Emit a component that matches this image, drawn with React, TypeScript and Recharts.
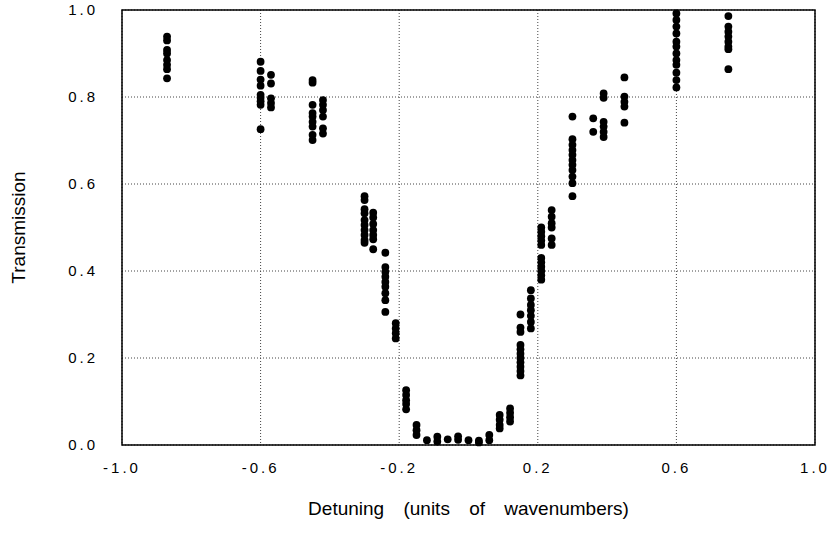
import { ScatterChart, Scatter, XAxis, YAxis, CartesianGrid, ReferenceArea, Label } from "recharts"

// detuning position of each measurement column
const DETUNING = [
  -0.87, -0.6, -0.57, -0.45, -0.42, -0.3, -0.275, -0.24, -0.21, -0.18, -0.15,
  -0.12, -0.09, -0.06, -0.03, 0.0, 0.03, 0.06, 0.09, 0.12,
  0.15, 0.18, 0.21, 0.24, 0.3, 0.36, 0.39, 0.45, 0.6, 0.75,
]

// transmission readings in each column
const TRANSMISSION = [
  [0.939, 0.93, 0.908, 0.9, 0.885, 0.874, 0.864, 0.843],
  [0.881, 0.86, 0.84, 0.826, 0.805, 0.798, 0.79, 0.782, 0.726],
  [0.851, 0.831, 0.797, 0.786, 0.776],
  [0.839, 0.833, 0.782, 0.763, 0.755, 0.743, 0.732, 0.713, 0.701],
  [0.793, 0.782, 0.77, 0.755, 0.728, 0.716],
  [0.572, 0.563, 0.542, 0.533, 0.517, 0.506, 0.494, 0.483, 0.471, 0.465],
  [0.534, 0.523, 0.508, 0.494, 0.483, 0.473, 0.45],
  [0.442, 0.409, 0.398, 0.387, 0.375, 0.364, 0.349, 0.333, 0.306],
  [0.28, 0.268, 0.257, 0.245],
  [0.126, 0.115, 0.103, 0.094, 0.082],
  [0.046, 0.034, 0.023],
  [0.011],
  [0.019, 0.008],
  [0.013],
  [0.02, 0.012],
  [0.011],
  [0.01, 0.006],
  [0.023, 0.011],
  [0.069, 0.058, 0.046, 0.038],
  [0.084, 0.074, 0.064, 0.054],
  [0.3, 0.27, 0.26, 0.23, 0.22, 0.21, 0.2, 0.19, 0.18, 0.17, 0.16],
  [0.356, 0.337, 0.322, 0.31, 0.297, 0.283, 0.268],
  [0.5, 0.49, 0.48, 0.47, 0.46, 0.43, 0.42, 0.41, 0.4, 0.39, 0.38],
  [0.54, 0.525, 0.51, 0.5, 0.475, 0.46],
  [0.755, 0.703, 0.69, 0.678, 0.667, 0.655, 0.644, 0.632, 0.617, 0.602, 0.572],
  [0.751, 0.72],
  [0.808, 0.798, 0.743, 0.732, 0.72, 0.708],
  [0.845, 0.801, 0.789, 0.778, 0.741],
  [0.992, 0.977, 0.962, 0.946, 0.927, 0.916, 0.9, 0.885, 0.874, 0.856, 0.839, 0.822],
  [0.986, 0.962, 0.95, 0.939, 0.927, 0.916, 0.91, 0.864],
]

const X_TICKS = [-1.0, -0.6, -0.2, 0.2, 0.6, 1.0]
const Y_TICKS = [0, 0.2, 0.4, 0.6, 0.8, 1.0]

const points = DETUNING.flatMap((x, i) => TRANSMISSION[i].map((y) => ({ x, y })))

const font = "Liberation Sans, Arial, Helvetica, sans-serif"
const tickStyle = { fontSize: 15, fill: "#000", fontFamily: font, letterSpacing: 3 }

const Dot = (p: any) => <circle cx={p.cx} cy={p.cy} r={3.9} fill="#000" />

export default function App() {
  return (
    <div style={{ width: 832, height: 533, background: "#fff" }}>
      <style>{`body{margin:0}`}</style>
      <ScatterChart width={832} height={533} margin={{ top: 10, right: 17, bottom: 0, left: 0 }}>
        <CartesianGrid stroke="#444" strokeDasharray="1 2" horizontalValues={Y_TICKS} verticalValues={X_TICKS} />
        <XAxis
          type="number"
          dataKey="x"
          domain={[-1, 1]}
          ticks={X_TICKS}
          tickFormatter={(v) => v.toFixed(1)}
          tick={tickStyle}
          tickLine={false}
          axisLine={false}
          tickMargin={11}
          height={88}
        >
          <Label
            value="Detuning (units of wavenumbers)"
            position="insideBottom"
            offset={18}
            style={{ fontSize: 19, fill: "#000", fontFamily: font, wordSpacing: 14 }}
          />
        </XAxis>
        <YAxis
          type="number"
          dataKey="y"
          domain={[0, 1]}
          ticks={Y_TICKS}
          tickFormatter={(v) => v.toFixed(1)}
          tick={tickStyle}
          tickLine={false}
          axisLine={false}
          tickMargin={18}
          width={122}
        >
          <Label
            value="Transmission"
            angle={-90}
            position="insideLeft"
            offset={18}
            style={{ fontSize: 19, fill: "#000", fontFamily: font, textAnchor: "middle" }}
          />
        </YAxis>
        <ReferenceArea x1={-1} x2={1} y1={0} y2={1} fill="none" stroke="#000" strokeWidth={1.5} ifOverflow="visible" />
        <Scatter data={points} shape={Dot} isAnimationActive={false} />
      </ScatterChart>
    </div>
  )
}
